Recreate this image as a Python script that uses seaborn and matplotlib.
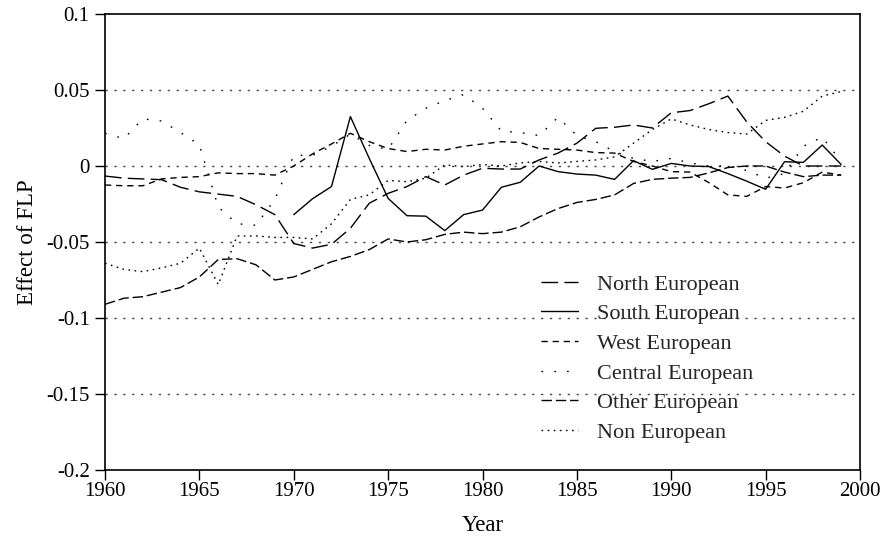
import numpy as np
import pandas as pd
import matplotlib
matplotlib.use("Agg")
import matplotlib.pyplot as plt
import seaborn as sns

years = list(range(1960, 2000))

north_european = [-0.0066, -0.008, -0.0085, -0.009, -0.014, -0.017, -0.0185, -0.020, -0.0255, -0.032,
                  -0.051, -0.054, -0.0515, -0.041, -0.0245, -0.018, -0.0135, -0.007, -0.0125, -0.006,
                  -0.0015, -0.002, -0.002, 0.004, 0.0085, 0.015, 0.0248, 0.0255, 0.027, 0.025,
                  0.035, 0.0365, 0.041, 0.046, 0.029, 0.016, 0.0065, 0.0, 0.0, 0.0]

south_european = [np.nan] * 10 + [
                  -0.032, -0.0215, -0.0135, 0.0325, 0.005, -0.0213, -0.0327, -0.033, -0.0425, -0.032,
                  -0.029, -0.014, -0.0107, 0.0, -0.0037, -0.0053, -0.006, -0.0088, 0.0035, -0.0022,
                  0.0017, 0.0, -0.0004, -0.005, -0.010, -0.0153, 0.0028, 0.0024, 0.0138, 0.001]

west_european = [-0.0125, -0.013, -0.013, -0.0085, -0.0075, -0.007, -0.0045, -0.005, -0.005, -0.006,
                 0.0, 0.008, 0.0145, 0.0215, 0.016, 0.0115, 0.0095, 0.011, 0.0105, 0.013,
                 0.0145, 0.016, 0.0155, 0.0115, 0.011, 0.0105, 0.0088, 0.0085, 0.003, 0.0,
                 -0.0037, -0.004, -0.011, -0.019, -0.020, -0.0135, -0.0145, -0.011, -0.004, -0.006]

central_european = [0.0215, 0.018, 0.031, 0.0296, 0.022, 0.014, -0.027, -0.038, -0.039, -0.022,
                     0.007, 0.007, 0.013, 0.021, 0.0135, 0.011, 0.030, 0.038, 0.043, 0.047,
                     0.038, 0.023, 0.022, 0.020, 0.032, 0.020, 0.016, 0.0095, 0.005, 0.003,
                     0.005, 0.002, 0.0, 0.0, -0.003, -0.008, -0.005, 0.013, 0.019, 0.003]

other_european = [-0.091, -0.087, -0.086, -0.083, -0.080, -0.073, -0.0615, -0.061, -0.065, -0.075,
                  -0.073, -0.068, -0.063, -0.0595, -0.055, -0.048, -0.050, -0.0485, -0.045, -0.0435,
                  -0.0445, -0.0435, -0.040, -0.0335, -0.028, -0.024, -0.022, -0.019, -0.0115, -0.0088,
                  -0.008, -0.0075, -0.0045, -0.001, 0.0, 0.0, -0.004, -0.007, -0.006, -0.006]

non_european = [-0.064, -0.068, -0.0695, -0.067, -0.064, -0.054, -0.078, -0.046, -0.046, -0.047,
                -0.047, -0.048, -0.038, -0.022, -0.019, -0.0095, -0.0103, -0.008, 0.0007, -0.0004,
                0.001, 0.0, 0.002, 0.003, 0.002, 0.003, 0.004, 0.006, 0.015, 0.024,
                0.031, 0.027, 0.024, 0.022, 0.021, 0.030, 0.032, 0.036, 0.046, 0.049]

series_names = ["North European", "South European", "West European",
                "Central European", "Other European", "Non European"]
series_values = [north_european, south_european, west_european,
                 central_european, other_european, non_european]

x_ticks = [1960, 1965, 1970, 1975, 1980, 1985, 1990, 1995, 2000]
y_ticks = [0.1, 0.05, 0, -0.05, -0.1, -0.15, -0.2]
y_tick_labels = ["0.1", "0.05", "0", "-0.05", "-0.1", "-0.15", "-0.2"]

# long-form table
rows = []
for name, vals in zip(series_names, series_values):
    for yr, v in zip(years, vals):
        rows.append({"Year": yr, "value": v, "series": name})
df = pd.DataFrame(rows).dropna()

sns.set_theme(style="white")
plt.rcParams["font.family"] = ["Liberation Serif", "DejaVu Serif"]

fig = plt.figure(figsize=(8.87, 5.40), dpi=100)
ax = fig.add_axes([105 / 887, 1 - 470 / 540, 755 / 887, 456 / 540])

dash_map = {
    "North European": (12, 4.5),
    "South European": "",
    "West European": (4.5, 3.5),
    "Central European": (1.2, 8),
    "Other European": (7.5, 2.8),
    "Non European": (1.2, 3.2),
}
palette = {n: "black" for n in series_names}

sns.lineplot(data=df, x="Year", y="value", hue="series", style="series",
             hue_order=series_names, style_order=series_names,
             palette=palette, dashes=dash_map, estimator=None, sort=True,
             linewidth=1.0, ax=ax)

ax.set_xlim(1960, 2000)
ax.set_ylim(-0.2, 0.1)
ax.set_xticks(x_ticks)
ax.set_xticklabels([str(t) for t in x_ticks])
ax.set_yticks(y_ticks)
ax.set_yticklabels(y_tick_labels)

for gy in y_ticks[1:-1]:
    ax.axhline(gy, color="#444444", linewidth=1.0, linestyle=(0, (1.6, 4.8)), zorder=0)

for sp in ax.spines.values():
    sp.set_color("black")
    sp.set_linewidth(1.2)
    sp.set_visible(True)

ax.tick_params(axis="both", direction="out", length=7, width=1.0, color="black",
               labelsize=15, labelcolor="black", left=True, bottom=True, pad=2)
ax.tick_params(axis="y", pad=4)

ax.set_xlabel("Year", fontsize=16.5, color="black", labelpad=10)
ax.set_ylabel("Effect of FLP", fontsize=16.5, color="black", labelpad=6)

handles, labels = ax.get_legend_handles_labels()
ax.legend(handles, labels, loc="upper left",
          bbox_to_anchor=((541 - 105) / 755, (470 - 274) / 456),
          frameon=False, fontsize=16, handlelength=1.67, handletextpad=0.86,
          labelspacing=0.41, borderpad=0, borderaxespad=0)

fig.savefig("out.png", dpi=100, facecolor="white")
